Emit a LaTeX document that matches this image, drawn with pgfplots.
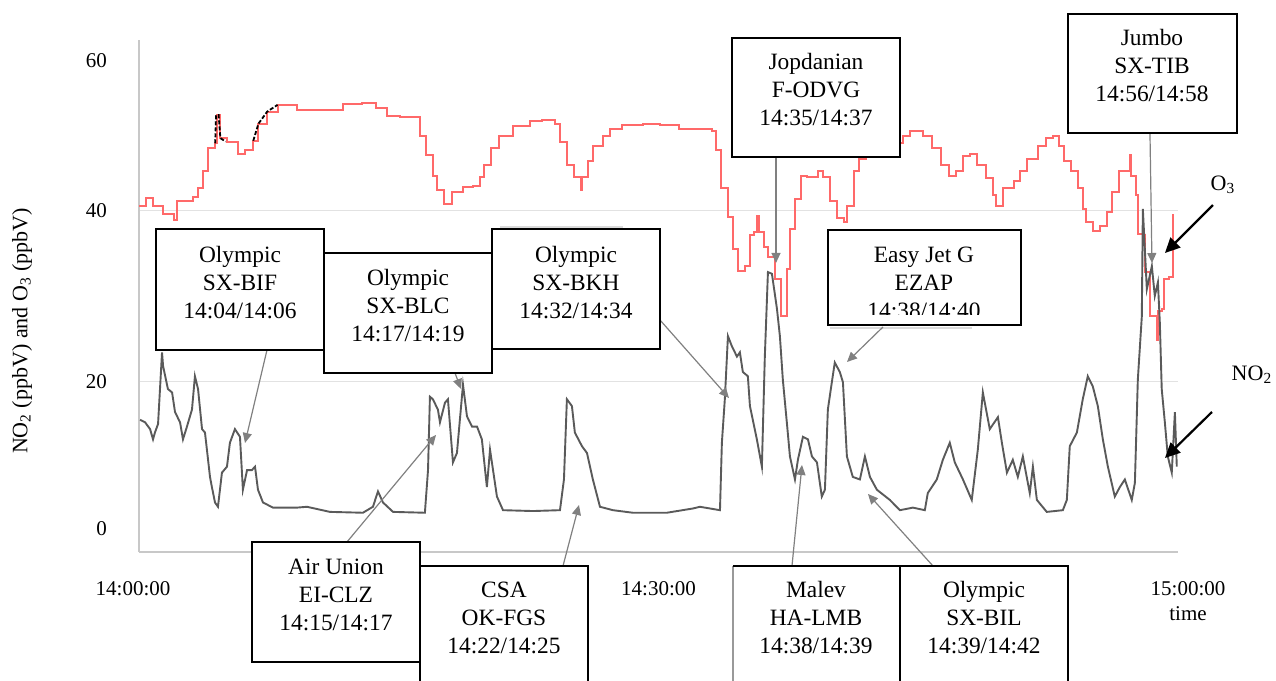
\documentclass[border=0pt]{standalone}
\usepackage{pgfplots}
\pgfplotsset{compat=1.18}
\usepackage{pgfplotstable}
\usepackage{fontspec}
\setmainfont{Liberation Serif}
\usetikzlibrary{arrows.meta}
\definecolor{ozone}{RGB}{255,105,105}
\definecolor{notwo}{RGB}{90,90,90}
\definecolor{axisgray}{RGB}{200,200,200}
\definecolor{gridgray}{RGB}{226,226,226}
\newcommand{\boxfont}{\fontsize{11.7bp}{14bp}\selectfont}

\pgfplotstableread{
t v
0.0 40.5
0.4 41.5
0.8 40.6
1.4 39.6
2.0 38.9
2.2 41.1
3.1 41.6
3.4 42.6
3.7 44.6
4.0 47.3
4.4 47.9
4.5 51.2
4.7 48.5
5.1 48.1
5.7 46.7
6.1 47.1
6.6 48.2
6.9 50.2
7.4 51.6
8.0 52.4
9.1 51.8
10.3 51.8
11.8 52.5
12.9 52.6
13.7 52.0
14.3 51.1
15.1 51.0
16.1 51.0
16.2 48.8
16.6 46.5
17.0 44.1
17.2 42.4
17.6 40.8
18.1 42.2
18.7 42.8
19.3 42.9
19.7 44.0
19.9 45.3
20.3 47.3
20.8 48.8
21.6 49.9
22.6 50.5
23.3 50.6
24.0 50.2
24.3 48.1
24.7 45.3
25.1 44.0
25.5 42.4
25.6 44.0
25.9 45.8
26.2 47.6
26.8 48.8
27.2 49.6
27.9 50.0
29.1 50.2
30.1 50.0
31.2 49.6
33.1 49.3
33.3 47.1
33.6 42.6
34.0 39.3
34.3 35.5
34.6 32.9
35.0 33.5
35.3 37.1
35.5 37.5
35.7 39.4
35.8 37.5
36.1 35.8
36.3 34.6
36.7 32.0
37.1 27.6
37.4 33.2
37.6 37.9
37.9 41.4
38.2 44.1
38.6 44.0
39.2 44.7
39.5 44.0
39.9 41.1
40.3 39.1
40.7 38.7
40.9 40.6
41.3 44.6
41.6 46.1
42.0 46.9
43.0 47.9
44.1 48.8
44.5 49.3
45.3 48.8
45.8 47.3
46.3 45.3
46.8 44.1
47.2 44.6
47.6 46.4
48.0 46.7
48.4 45.3
48.9 43.8
49.3 41.8
49.5 40.5
49.9 42.6
50.5 43.5
50.9 44.6
51.3 46.1
51.9 47.6
52.4 48.5
52.8 48.8
53.1 47.6
53.4 45.8
53.8 44.6
54.2 42.6
54.5 40.2
54.7 38.7
55.1 37.6
55.5 38.2
55.9 39.9
56.2 42.2
56.6 44.6
57.2 46.5
57.3 44.1
57.6 41.8
57.7 37.3
58.0 37.1
58.1 32.8
58.4 27.6
58.8 24.9
58.85 28.2
59.1 28.5
59.2 32.0
59.5 32.2
59.7 39.6
}\ozonedata

\pgfplotstableread{
t v
0.06 15.5
0.35 15.2
0.64 14.4
0.81 13.2
0.92 14.0
1.10 15.0
1.33 23.4
1.39 21.8
1.67 19.1
1.91 18.7
2.08 16.4
2.37 15.2
2.54 13.2
2.77 14.7
3.06 16.7
3.23 20.6
3.41 19.1
3.64 14.4
3.81 14.0
4.10 8.8
4.21 7.6
4.39 5.8
4.56 5.3
4.79 9.3
5.08 10.0
5.25 12.8
5.54 14.4
5.83 13.5
6.00 7.3
6.24 9.6
6.52 9.6
6.70 10.0
6.87 7.3
7.16 5.8
7.74 5.2
9.12 5.2
9.70 5.3
11.03 4.7
12.93 4.6
13.51 5.3
13.80 7.1
14.09 5.8
14.67 4.7
16.51 4.6
16.69 9.6
16.80 18.2
16.97 17.9
17.26 16.7
17.38 15.2
17.67 17.5
17.84 17.9
18.13 10.5
18.36 11.6
18.53 15.5
18.71 19.6
18.94 15.9
19.23 14.7
19.52 14.7
19.80 13.2
20.09 7.6
20.27 12.0
20.67 6.5
21.02 4.9
22.75 4.8
24.31 4.9
24.54 8.5
24.71 17.9
25.00 17.1
25.17 14.0
25.58 12.4
25.87 11.6
26.21 8.5
26.62 5.3
27.37 4.9
28.52 4.6
30.48 4.6
31.99 5.1
32.39 5.3
33.55 4.9
33.66 12.8
33.83 17.9
34.01 25.3
34.24 24.1
34.53 22.9
34.70 23.4
34.87 21.1
35.16 20.6
35.28 17.1
35.68 13.2
35.97 10.0
36.14 22.9
36.32 32.8
36.55 32.6
36.84 28.5
37.01 25.3
37.18 20.2
37.41 15.2
37.59 11.2
37.88 8.5
38.05 10.8
38.34 13.5
38.63 13.2
38.86 11.2
39.15 10.5
39.43 6.5
39.61 7.3
39.78 16.7
40.01 19.9
40.18 22.2
40.47 21.1
40.65 19.9
40.88 11.2
41.22 8.8
41.63 8.5
41.92 11.2
42.21 8.8
42.61 7.3
43.36 6.1
43.94 4.9
44.69 5.2
45.38 4.9
45.55 6.9
46.07 8.5
46.42 10.8
46.82 12.8
47.11 10.5
47.58 8.5
48.09 6.1
48.44 12.0
48.73 18.7
49.13 14.4
49.60 15.8
49.83 12.8
50.12 9.3
50.46 10.8
50.75 8.8
51.04 11.2
51.44 6.9
51.62 10.0
51.85 6.1
52.42 4.7
53.35 4.9
53.58 6.1
53.75 12.4
54.16 14.0
54.50 17.9
54.79 20.6
55.08 19.4
55.37 17.1
55.66 13.2
55.95 10.0
56.35 6.5
56.64 7.6
56.93 8.5
57.33 6.1
57.51 8.1
57.68 20.2
57.91 27.6
57.97 40.2
58.20 30.8
58.49 33.5
58.66 30.0
58.84 31.6
58.95 26.9
59.06 19.1
59.24 15.2
59.41 11.2
59.64 9.3
59.82 16.4
59.93 10.0
}\notwodata

\begin{document}
\begin{tikzpicture}
\useasboundingbox (0,0) rectangle (638bp,340.5bp);
\begin{axis}[
  at={(69.5bp,64.5bp)}, anchor=south west,
  scale only axis, width=519.5bp, height=256bp,
  xmin=0, xmax=60, ymin=0, ymax=60,
  axis x line=bottom, axis y line=left,
  axis line style={-, draw=axisgray, line width=1.2bp},
  major tick length=0pt,
  ytick={20,40}, yticklabels={20,40},
  extra y ticks={2.7,57.6}, extra y tick labels={0,60},
  extra y tick style={grid=none},
  ymajorgrids, grid style={draw=gridgray, line width=0.8bp},
  xtick={0,30,60},
  xticklabels={{\makebox[0pt]{\hspace*{-6bp}\strut 14:00:00}},{\strut 14:30:00},{\makebox[0pt]{\hspace*{10bp}\begin{tabular}[t]{@{}c@{}}15:00:00\\time\end{tabular}}}},
  ticklabel style={font=\fontsize{10.5bp}{12.6bp}\selectfont},
  yticklabel style={anchor=east, xshift=-12.5bp},
  xticklabel style={anchor=north, yshift=-9.5bp},
  every axis y label/.style={at={(axis description cs:-0.1126,0.4316)}, rotate=90, anchor=center, font=\fontsize{11bp}{13bp}\selectfont},
  ylabel={NO\textsubscript{2} (ppbV) and O\textsubscript{3} (ppbV)},
]
\addplot[const plot, color=ozone, line width=1bp] table[x=t,y=v] {\ozonedata};
\addplot[color=black, line width=0.9bp, dash pattern=on 2bp off 1bp] coordinates {(4.4,47.9) (4.45,51.2) (4.6,51.2) (4.7,48.5) (5.0,48.1)};
\addplot[color=black, line width=0.9bp, dash pattern=on 2bp off 1bp] coordinates {(6.6,48.2) (6.9,50.2) (7.4,51.6) (8.0,52.4)};
\addplot[color=notwo, line width=0.95bp] table[x=t,y=v] {\notwodata};
\end{axis}

\begin{scope}[x=0.5bp, y=-0.5bp, shift={(0bp,340.5bp)}]
  \tikzset{callout/.style={draw=black!50, line width=0.6bp, -{Triangle[length=5bp,width=4.5bp]}},
           bx/.style={line width=1bp, fill=white}}
  % shadow remnants
  \draw[black!14, line width=1.2bp] (500,227) -- (623,227);
  \draw[black!14, line width=1.2bp] (830,328) -- (972,328);
  % callout arrows
  \draw[callout] (267,350) -- (245,443);
  \draw[callout] (455,373) -- (461,389);
  \draw[callout] (660,320) -- (729,398);
  \draw[callout] (776,157) -- (776,263);
  \draw[callout] (883,327) -- (847,362);
  \draw[callout] (1150,133) -- (1152,263);
  \draw[callout] (347,542) -- (436,435);
  \draw[callout] (563,566) -- (579,505);
  \draw[callout] (792,566) -- (802,465);
  \draw[callout] (933,566) -- (868,494);
  % boxes
  \draw[bx] (156,229) rectangle (324,350);
  \node[align=center, font=\boxfont] at (240,283) {Olympic\\SX-BIF\\14:04/14:06};
  \draw[bx] (324,253) rectangle (492,373);
  \node[align=center, font=\boxfont] at (408,306) {Olympic\\SX-BLC\\14:17/14:19};
  \draw[bx] (492,229) rectangle (660,349);
  \node[align=center, font=\boxfont] at (576,283) {Olympic\\SX-BKH\\14:32/14:34};
  \draw[bx] (732,38) rectangle (900,157);
  \node[align=center, font=\boxfont] at (816,90) {Jopdanian\\F-ODVG\\14:35/14:37};
  \draw[bx] (828,230) rectangle (1021,325);
  \begin{scope}
    \clip (828,230) rectangle (1021,315);
    \node[align=center, font=\boxfont] at (924,283) {Easy Jet G\\EZAP\\14:38/14:40};
  \end{scope}
  \draw[bx] (1068,14) rectangle (1237,133);
  \node[align=center, font=\boxfont] at (1152,66) {Jumbo\\SX-TIB\\14:56/14:58};
  \draw[bx] (252,542) rectangle (420,662);
  \node[align=center, font=\boxfont] at (336,595) {Air Union\\EI-CLZ\\14:15/14:17};
  % bottom boxes, open at the page edge
  \fill[white] (420,566) rectangle (588,700);
  \draw[line width=1bp] (420,700) -- (420,566) -- (588,566) -- (588,700);
  \node[align=center, font=\boxfont] at (504,618) {CSA\\OK-FGS\\14:22/14:25};
  \fill[white] (733,566) rectangle (1068,700);
  \draw[black!40, line width=0.6bp] (733,700) -- (733,566);
  \draw[line width=1bp] (733,566) -- (1068,566) -- (1068,700);
  \draw[line width=1bp] (900,566) -- (900,700);
  \node[align=center, font=\boxfont] at (816,618) {Malev\\HA-LMB\\14:38/14:39};
  \node[align=center, font=\boxfont] at (984,618) {Olympic\\SX-BIL\\14:39/14:42};
  % species labels
  \node[font=\fontsize{11bp}{13bp}\selectfont] at (1223,185) {O\textsubscript{3}};
  \draw[line width=1.1bp, -{Triangle[length=7.5bp,width=7bp]}] (1213,205) -- (1165,253);
  \node[font=\fontsize{11bp}{13bp}\selectfont] at (1252,375) {NO\textsubscript{2}};
  \draw[line width=1.1bp, -{Triangle[length=7.5bp,width=7bp]}] (1212,412) -- (1165,458);
\end{scope}
\end{tikzpicture}
\end{document}
